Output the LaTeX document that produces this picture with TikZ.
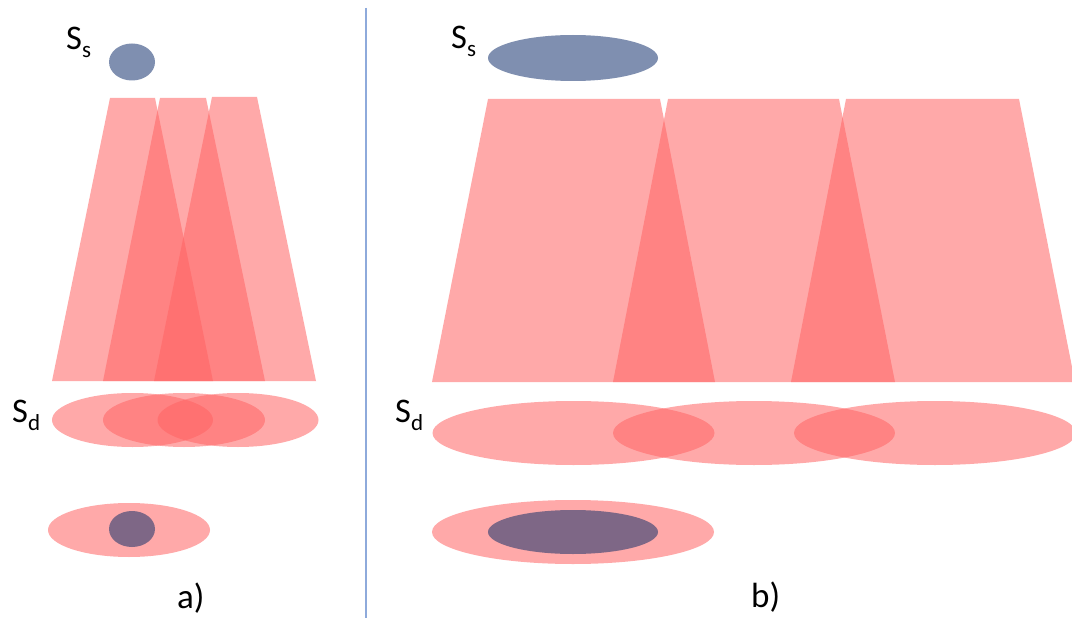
\documentclass[tikz,border=0pt]{standalone}
\usepackage{fontspec}
\setmainfont{Carlito}
\definecolor{beamred}{RGB}{255,100,100}
\definecolor{srcblue}{RGB}{127,143,176}
\definecolor{spotpurple}{RGB}{126,103,134}
\definecolor{dividerblue}{RGB}{142,170,219}
\newcommand{\labS}[1]{{\fontsize{34.5}{40}\selectfont S\raisebox{-8pt}{\fontsize{23}{24}\selectfont #1}}}
\begin{document}
\begin{tikzpicture}[x=1pt,y=-1pt,
  beam/.style={fill=beamred, fill opacity=0.55},
  srcspot/.style={fill=srcblue},
  detspot/.style={fill=spotpurple},
  lab/.style={inner sep=0pt, anchor=base west},
  caplab/.style={inner sep=0pt, anchor=base west, font=\fontsize{35}{40}\selectfont}]
\fill[white] (0,0) rectangle (1072,618);
\useasboundingbox (0,0) rectangle (1072,618);

% ---------- a) ----------
\fill[srcspot] (132,62) ellipse [x radius=23pt, y radius=18.5pt];
\node[lab] (ssa) at (66,50) {\labS{s}};

\fill[beam] (110,98) -- (155,98) -- (213,381) -- (52,381) -- cycle;
\fill[beam] (160,98) -- (206,98) -- (265,381) -- (103,381) -- cycle;
\fill[beam] (212,97) -- (257,97) -- (316,381) -- (154,381) -- cycle;

\fill[beam] (132.5,420) ellipse [x radius=80.5pt, y radius=27pt];
\fill[beam] (184,420) ellipse [x radius=81pt, y radius=27pt];
\fill[beam] (238,420) ellipse [x radius=80.5pt, y radius=27pt];
\node[lab] (sda) at (12,422) {\labS{d}};

\fill[beam] (129,530) ellipse [x radius=81pt, y radius=27pt];
\fill[detspot] (132,529) ellipse [x radius=23pt, y radius=18pt];
\node[caplab] (capa) at (177,608) {a)};

% ---------- divider ----------
\coordinate (dtop) at (366,8);
\coordinate (dbot) at (366,618);
\draw[dividerblue, line width=1.3pt] (dtop) -- (dbot);

% ---------- b) ----------
\fill[srcspot] (573,58) ellipse [x radius=85pt, y radius=23pt];
\node[lab] (ssb) at (451,49) {\labS{s}};

\fill[beam] (488,99) -- (660,99) -- (715,382) -- (432,382) -- cycle;
\fill[beam] (668,99) -- (839,99) -- (895,382) -- (613,382) -- cycle;
\fill[beam] (846,99) -- (1019,99) -- (1075,382) -- (791,382) -- cycle;

\fill[beam] (573.5,433) ellipse [x radius=141pt, y radius=32pt];
\fill[beam] (754,433) ellipse [x radius=141pt, y radius=32pt];
\fill[beam] (935,433) ellipse [x radius=141pt, y radius=32pt];
\node[lab] (sdb) at (395,422) {\labS{d}};

\fill[beam] (573,532) ellipse [x radius=141pt, y radius=32pt];
\fill[detspot] (573,532) ellipse [x radius=85pt, y radius=22pt];
\node[caplab] (capb) at (751,607) {b)};
\end{tikzpicture}
\end{document}
